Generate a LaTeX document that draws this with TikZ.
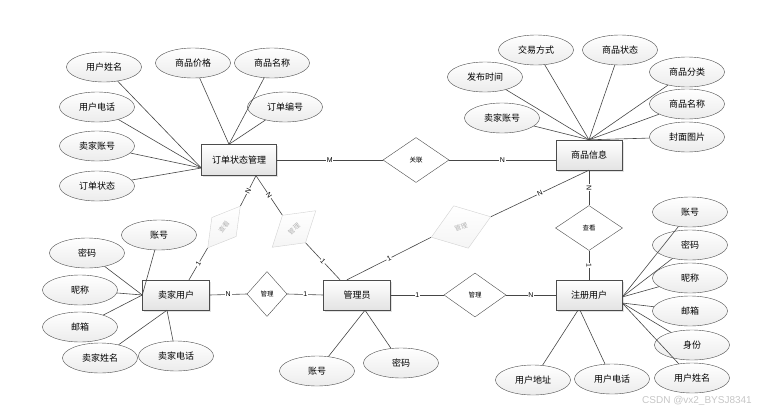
\documentclass[tikz,border=0pt]{standalone}
\usepackage{fontspec}
\setmainfont{Liberation Sans}
\newfontfamily\cjk{Noto Sans CJK SC}
\usepackage{tikz}
\usetikzlibrary{shapes,shapes.geometric,shadows}

\begin{document}
\begin{tikzpicture}[
    x=1pt, y=1pt,
    entity/.style={rectangle, draw=gray!60!black, top color=white, bottom color=gray!22, minimum width=67pt, minimum height=30pt, inner sep=1pt, font=\cjk\fontsize{9}{10}\selectfont, drop shadow={shadow xshift=1.5pt, shadow yshift=-1.5pt, fill=gray!45}},
    attr/.style={ellipse, draw=gray!60!black, top color=white, bottom color=gray!15, minimum width=75pt, minimum height=30pt, inner sep=0pt, font=\cjk\fontsize{9}{10}\selectfont},
    rel/.style={diamond, draw=gray!60!black, fill=white, minimum width=66pt, minimum height=45pt, inner sep=0pt, font=\cjk\fontsize{6.5}{7}\selectfont},
    faded/.style={rel, draw=gray!35, top color=white, bottom color=gray!8, text=gray!60},
    link/.style={draw=gray!55!black, line width=0.6pt},
    card/.style={fill=white, inner sep=0.8pt, font=\fontsize{7}{7}\selectfont}
]
    \useasboundingbox (0,0) rectangle (784,-415);

    % Entities
    \node[entity, minimum width=75pt, minimum height=31pt] (order) at (239,-160) {订单状态管理};
    \node[entity, minimum width=66pt] (goods) at (589,-155) {商品信息};
    \node[entity] (seller) at (176,-295) {卖家用户};
    \node[entity] (admin) at (357,-295) {管理员};
    \node[entity, minimum width=66pt] (reguser) at (589,-295) {注册用户};

    % Relations
    \node[rel] (rlink) at (416,-160) {关联};
    \node[rel, minimum width=40pt] (rmgr1) at (267,-294) {管理};
    \node[rel, minimum width=62pt, minimum height=44pt] (rmgr2) at (475,-295) {管理};
    \node[rel, minimum width=67pt] (rview) at (589,-228) {查看};
    \node[faded, minimum width=53pt, minimum height=31pt, rotate=52] (fview) at (224,-227) {查看};
    \node[faded, minimum width=57pt, minimum height=36pt, rotate=40] (fmgr1) at (294,-229) {管理};
    \node[faded, minimum width=63pt, minimum height=45pt, rotate=19] (fmgr2) at (461,-227) {管理};

    % Order attributes
    \node[attr] (o1) at (104,-67) {用户姓名};
    \node[attr] (o2) at (97,-107) {用户电话};
    \node[attr] (o3) at (97,-146) {卖家账号};
    \node[attr] (o4) at (97,-186) {订单状态};
    \node[attr] (o5) at (193,-63) {商品价格};
    \node[attr] (o6) at (272,-63) {商品名称};
    \node[attr] (o7) at (285,-107) {订单编号};

    % Goods attributes
    \node[attr] (g1) at (536,-50) {交易方式};
    \node[attr] (g2) at (620,-50) {商品状态};
    \node[attr] (g3) at (485,-77) {发布时间};
    \node[attr] (g4) at (687,-72) {商品分类};
    \node[attr] (g5) at (502,-118) {卖家账号};
    \node[attr] (g6) at (687,-104) {商品名称};
    \node[attr] (g7) at (687,-137) {封面图片};

    % Seller attributes
    \node[attr] (s1) at (159,-235) {账号};
    \node[attr] (s2) at (87,-253) {密码};
    \node[attr] (s3) at (80,-290) {昵称};
    \node[attr] (s4) at (80,-327) {邮箱};
    \node[attr] (s5) at (100,-358) {卖家姓名};
    \node[attr] (s6) at (176,-356) {卖家电话};

    % Admin attributes
    \node[attr] (a1) at (317,-371) {账号};
    \node[attr] (a2) at (401,-363) {密码};

    % Registered user attributes
    \node[attr] (u1) at (690,-212) {账号};
    \node[attr] (u2) at (690,-245) {密码};
    \node[attr] (u3) at (690,-278) {昵称};
    \node[attr] (u4) at (690,-311) {邮箱};
    \node[attr] (u5) at (692,-345) {身份};
    \node[attr] (u6) at (692,-378) {用户姓名};
    \node[attr] (u7) at (533,-380) {用户地址};
    \node[attr] (u8) at (612,-379) {用户电话};

    % Attribute links
    \foreach \a in {o1,o2,o3,o4} \draw[link] (\a) -- ([yshift=-8pt]order.west);
    \foreach \a in {o5,o6,o7} \draw[link] (\a) -- ([xshift=-10pt]order.north);
    \foreach \a in {g1,g2,g3,g4,g5,g6,g7} \draw[link] (\a) -- (goods.north);
    \foreach \a in {s1,s2,s3,s4} \draw[link] (\a) -- (seller.west);
    \foreach \a in {s5,s6} \draw[link] (\a) -- ([xshift=-9pt]seller.south);
    \foreach \a in {a1,a2} \draw[link] (\a) -- ([xshift=8pt]admin.south);
    \foreach \a in {u1,u2,u3} \draw[link] (\a) -- ([yshift=-2pt]reguser.east);
    \foreach \a in {u4,u5,u6} \draw[link] (\a) -- ([yshift=-8pt]reguser.east);
    \draw[link] (u7) -- ([xshift=-11pt]reguser.south);
    \draw[link] (u8) -- ([xshift=-9pt]reguser.south);

    % Relation links
    \draw[link] (order.east) -- node[card]{M} (rlink.west);
    \draw[link] (rlink.east) -- node[card]{N} (rlink.east -| goods.west);
    \draw[link] (goods.south) -- node[card, sloped]{N} (rview.north);
    \draw[link] (rview.south) -- node[card, sloped]{1} (reguser.north);
    \draw[link] (seller.east) -- node[card]{N} (rmgr1.west);
    \draw[link] (rmgr1.east) -- node[card]{1} (admin.west);
    \draw[link] (admin.east) -- node[card]{1} (rmgr2.west);
    \draw[link] (rmgr2.east) -- node[card]{N} (reguser.west);
    \draw[link] ([xshift=17pt]order.south) -- node[card, sloped]{N} (fview.east);
    \draw[link] (fview.west) -- node[card, sloped]{1} ([xshift=13pt]seller.north);
    \draw[link] ([xshift=17pt]order.south) -- node[card, sloped]{N} (fmgr1.north);
    \draw[link] (fmgr1.south) -- node[card, sloped]{1} ([xshift=-17pt]admin.north);
    \draw[link] ([xshift=-10pt]admin.north) -- node[card, sloped]{1} (fmgr2.west);
    \draw[link] (fmgr2.east) -- node[card, sloped]{N} (goods.south);

    % Watermark
    \node[text=gray!45, font=\fontsize{10}{12}\selectfont] (mark) at (697,-401) {CSDN @vx2\_BYSJ8341};
\end{tikzpicture}
\end{document}
